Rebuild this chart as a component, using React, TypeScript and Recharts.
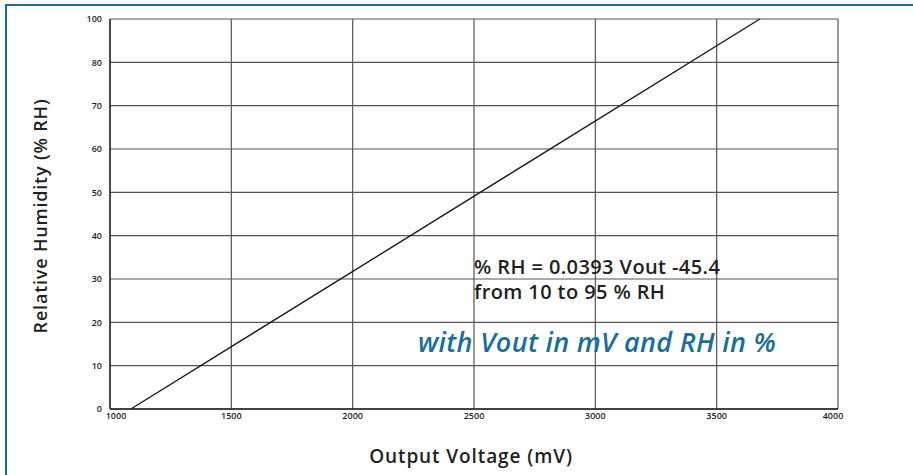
import { LineChart, Line, XAxis, YAxis, CartesianGrid } from 'recharts'

// x axis: output voltage in mV
const xTicks = [1000, 1500, 2000, 2500, 3000, 3500, 4000]
// y axis gridlines are evenly spaced; the printed labels skip 90 and end at 100
const yTicks = [0, 1, 2, 3, 4, 5, 6, 7, 8, 9]
const yTickLabels = ['0', '10', '20', '30', '40', '50', '60', '70', '80', '100']

// the plotted straight line (y in grid steps)
const lineVout = [1086, 3678]
const lineRH = [0, 9]

const data = lineVout.map((v, i) => ({ vout: v, rh: lineRH[i] }))

const TEAL = '#1b6f97'
const INK = '#231f20'
const FONT = '"Open Sans", "Noto Sans", sans-serif'

const tickStyle = { fontSize: 9, fontWeight: 600, fill: INK, fontFamily: FONT }

// end labels of the x axis sit a little inward, as printed
const XTick = (props: any) => {
  const { x, y, payload, index } = props
  const dx = index === 0 ? 6 : index === xTicks.length - 1 ? -5 : 0
  return (
    <text x={x + dx} y={y} dy="0.71em" textAnchor="middle" {...tickStyle}>
      {payload.value}
    </text>
  )
}

export default function App() {
  return (
    <div style={{ position: 'absolute', left: 0, top: 0, width: 913, height: 475, background: '#fff', overflow: 'hidden' }}>
      <div
        style={{
          position: 'absolute',
          left: 5,
          top: 4,
          width: 1000,
          height: 469,
          borderLeft: `2px solid ${TEAL}`,
          borderTop: `2px solid ${TEAL}`,
          borderBottom: `2px solid ${TEAL}`,
        }}
      />
      <LineChart
        width={913}
        height={475}
        data={data}
        margin={{ top: 19, right: 75, bottom: 46, left: 80 }}
        style={{ position: 'absolute', left: 0, top: 0 }}
      >
        <CartesianGrid stroke="#555" strokeWidth={1.2} />
        <XAxis
          dataKey="vout"
          type="number"
          domain={[1000, 4000]}
          ticks={xTicks}
          tickLine={false}
          tickSize={2}
          height={20}
          axisLine={{ stroke: '#222', strokeWidth: 1.3 }}
          tick={<XTick />}
          interval={0}
        />
        <YAxis
          type="number"
          domain={[0, 9]}
          ticks={yTicks}
          tickFormatter={(v: number) => yTickLabels[v]}
          tickLine={false}
          width={30}
          axisLine={{ stroke: '#222', strokeWidth: 1.3 }}
          tick={tickStyle}
          interval={0}
        />
        <Line
          dataKey="rh"
          stroke="#1a1a1a"
          strokeWidth={1.4}
          dot={false}
          activeDot={false}
          isAnimationActive={false}
        />
      </LineChart>
      <svg width={913} height={475} style={{ position: 'absolute', left: 0, top: 0, pointerEvents: 'none' }}>
        <text
          x={47}
          y={216}
          transform="rotate(-90 47 216)"
          textAnchor="middle"
          fontFamily={FONT}
          fontWeight={600}
          fontSize={18}
          fill={INK}
          letterSpacing={0.8}
        >
          Relative Humidity (% RH)
        </text>
        <text
          x={471}
          y={463}
          textAnchor="middle"
          fontFamily={FONT}
          fontWeight={600}
          fontSize={19}
          fill={INK}
          letterSpacing={0.9}
        >
          Output Voltage (mV)
        </text>
        <text x={474} y={274} fontFamily={FONT} fontWeight={600} fontSize={20} fill={INK} letterSpacing={0.4}>
          % RH = 0.0393 Vout -45.4
        </text>
        <text x={474} y={299} fontFamily={FONT} fontWeight={600} fontSize={20} fill={INK} letterSpacing={0.4}>
          from 10 to 95 % RH
        </text>
        <text x={418} y={352} fontFamily={FONT} fontWeight={600} fontStyle="italic" fontSize={27} fill={TEAL} letterSpacing={0.3}>
          with Vout in mV and RH in %
        </text>
      </svg>
    </div>
  )
}
